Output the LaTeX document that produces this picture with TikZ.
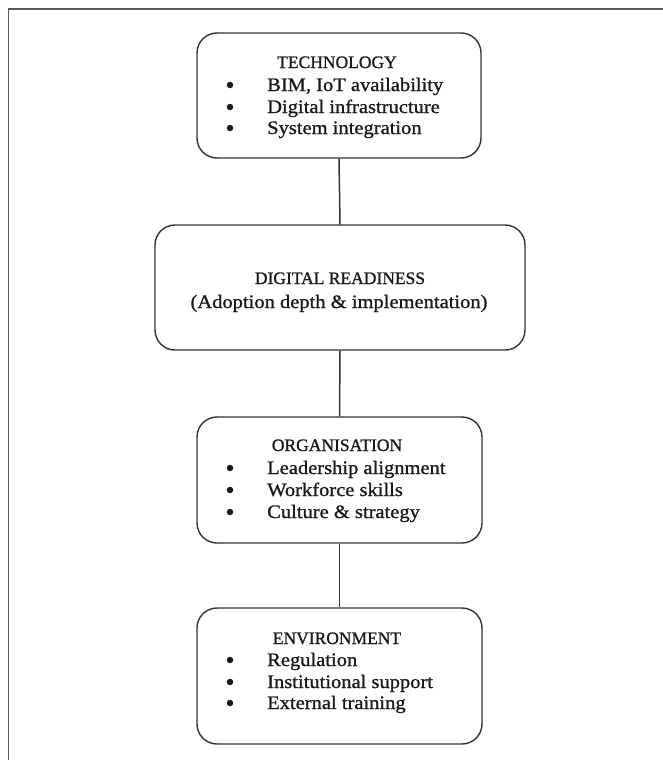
\documentclass[tikz,border=0pt]{standalone}
\usepackage{fontspec}
\setmainfont{Liberation Serif}[FakeBold=1.0]
\newfontfamily\widefont{Liberation Serif}[FakeStretch=1.08,FakeBold=1.0]
\begin{document}
\begin{tikzpicture}[x=1pt,y=-1pt,
  box/.style={draw=black!80, line width=1.4pt, rounded corners=20pt, inner sep=0pt},
  txt/.style={inner sep=0pt, text=black!90},
  head/.style={txt, anchor=base, font=\fontsize{17.5}{22}\selectfont},
  sub/.style={txt, anchor=base, font=\widefont\fontsize{19}{22}\selectfont},
  item/.style={txt, anchor=base west, font=\widefont\fontsize{19}{22}\selectfont},
  bul/.style={circle, fill=black!90, inner sep=0pt, minimum size=6.5pt},
  link/.style={draw=black!80, line width=1.5pt}]
\useasboundingbox (0,0) rectangle (662,760);
\fill[white] (0,0) rectangle (662,760);
\draw[black!65, line width=1.6pt] (8.5,762) -- (8.5,9) -- (664,9);
% boxes
\node[box, minimum width=284pt, minimum height=125pt] (tech) at (339,95.5) {};
\node[box, minimum width=370pt, minimum height=125pt] (ready) at (340,287.5) {};
\node[box, minimum width=285pt, minimum height=126pt] (org) at (339.5,480) {};
\node[box, minimum width=285pt, minimum height=136pt] (env) at (339.5,676) {};
% connectors
\draw[link] (tech.south) -- (ready.north);
\draw[link] (ready.south) -- (org.north);
\draw[link] (org.south) -- (env.north);
% technology
\node[head] (th) at (337,68) {TECHNOLOGY};
\node[bul] (tb1) at (230,85) {};
\node[item] (ti1) at (267,91) {BIM, IoT availability};
\node[bul] (tb2) at (230,107) {};
\node[item] (ti2) at (267,113) {Digital infrastructure};
\node[bul] (tb3) at (230,128) {};
\node[item] (ti3) at (267,134) {System integration};
% readiness
\node[head] (rh) at (340,284) {DIGITAL READINESS};
\node[sub] (rs) at (339,308) {(Adoption depth \& implementation)};
% organisation
\node[head] (oh) at (337,451) {ORGANISATION};
\node[bul] (ob1) at (230,468) {};
\node[item] (oi1) at (267,474) {Leadership alignment};
\node[bul] (ob2) at (230,490) {};
\node[item] (oi2) at (267,496) {Workforce skills};
\node[bul] (ob3) at (230,512) {};
\node[item] (oi3) at (267,518) {Culture \& strategy};
% environment
\node[head] (eh) at (337,644) {ENVIRONMENT};
\node[bul] (eb1) at (230,660) {};
\node[item] (ei1) at (267,666) {Regulation};
\node[bul] (eb2) at (230,682) {};
\node[item] (ei2) at (267,688) {Institutional support};
\node[bul] (eb3) at (230,703) {};
\node[item] (ei3) at (267,709) {External training};
\end{tikzpicture}
\end{document}
